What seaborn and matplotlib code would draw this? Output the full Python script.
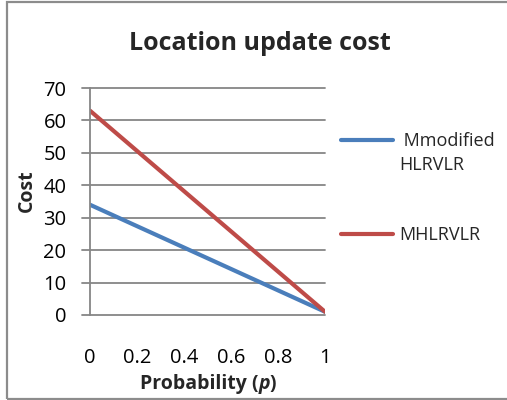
import matplotlib
matplotlib.use("Agg")
import matplotlib.pyplot as plt
from matplotlib.legend_handler import HandlerLine2D
from matplotlib.offsetbox import TextArea, HPacker, AnchoredOffsetbox
from matplotlib.patches import Rectangle
import seaborn as sns
import pandas as pd

# Data
probability = [0, 0.2, 0.4, 0.6, 0.8, 1]
mmodified_hlrvlr = [34, 27.4, 20.8, 14.2, 7.6, 1]
mhlrvlr = [63, 50.6, 38.2, 25.8, 13.4, 1]
series_labels = [" Mmodified\nHLRVLR", "MHLRVLR"]
x_tick_labels = ["0", "0.2", "0.4", "0.6", "0.8", "1"]
y_ticks = [0, 10, 20, 30, 40, 50, 60, 70]

df = pd.DataFrame({
    "p": probability * 2,
    "cost": mmodified_hlrvlr + mhlrvlr,
    "series": [series_labels[0]] * len(probability) + [series_labels[1]] * len(probability),
})

sns.set_theme(style="white")
FONT = "Open Sans"
plt.rcParams["font.family"] = [FONT, "DejaVu Sans"]

GRID = "#868686"
palette = {series_labels[0]: "#4A7EBB", series_labels[1]: "#BE4B48"}

fig = plt.figure(figsize=(5.07, 4.0), dpi=100)
ax = fig.add_axes([90 / 507, 1 - 315 / 400, (325 - 90) / 507, (315 - 88) / 400])

sns.lineplot(data=df, x="p", y="cost", hue="series", palette=palette,
             linewidth=3, ax=ax, legend=False)

ax.set_xlim(0, 1)
ax.set_ylim(0, 70)
ax.set_yticks(y_ticks)
ax.set_yticklabels([str(v) for v in y_ticks])
ax.set_xticks(probability)
ax.set_xticklabels(x_tick_labels)

# Horizontal gridlines reach past the axis like Excel's tick marks
for v in y_ticks:
    ax.axhline(v, xmin=-8 / 235, xmax=1, color=GRID, linewidth=1.3,
               clip_on=False, zorder=0.5)

for side in ["top", "right", "bottom"]:
    ax.spines[side].set_visible(False)
ax.spines["left"].set_color(GRID)
ax.spines["left"].set_linewidth(1.3)

ax.tick_params(axis="y", length=0, pad=17, labelsize=14.5, colors="black")
ax.tick_params(axis="x", length=0, pad=24, labelsize=14.5, colors="black")
ax.set_xlabel("")
ax.set_ylabel("Cost", fontsize=14, fontweight="bold")
ax.yaxis.set_label_coords(-0.225, 0.546)

fig.text(260 / 507, 1 - 43 / 400, "Location update cost", ha="center", va="center",
         fontsize=18, fontweight="bold")

# x-axis title with bold-italic p
parts = [
    TextArea("Probability (", textprops=dict(fontsize=14, fontweight="bold", family=FONT)),
    TextArea("p", textprops=dict(fontsize=14, fontweight="bold", style="italic", family=FONT)),
    TextArea(")", textprops=dict(fontsize=14, fontweight="bold", family=FONT)),
]
xlabel_box = HPacker(children=parts, align="baseline", pad=0, sep=0)
anchored = AnchoredOffsetbox(loc="center", child=xlabel_box, pad=0, frameon=False,
                             bbox_to_anchor=(208 / 507, 1 - 384 / 400),
                             bbox_transform=fig.transFigure, borderpad=0)
fig.add_artist(anchored)


class FirstLineHandler(HandlerLine2D):
    """Line handle aligned with the first line of a multi-line label."""

    def __init__(self, shift=0.0, **kw):
        super().__init__(**kw)
        self.shift = shift

    def create_artists(self, legend, orig_handle, xdescent, ydescent, width,
                       height, fontsize, trans):
        artists = super().create_artists(legend, orig_handle, xdescent, ydescent,
                                         width, height, fontsize, trans)
        for a in artists:
            y = a.get_ydata()
            a.set_ydata([v + self.shift for v in y])
        return artists


handles = [plt.Line2D([], [], color=palette[s], linewidth=3) for s in series_labels]
leg = ax.legend(handles, series_labels, loc="upper left",
                bbox_to_anchor=(341 / 507, 1 - 132 / 400), bbox_transform=fig.transFigure,
                frameon=False, fontsize=13, handlelength=2.9, handletextpad=0.3,
                labelspacing=2.9, borderpad=0, borderaxespad=0,
                handler_map={handles[0]: FirstLineHandler(shift=10.0)})
for t in leg.get_texts():
    t.set_linespacing(1.4)

# Chart-area border
fig.add_artist(Rectangle((6.5 / 507, 1.5 / 400), 1.0, 1 - 3.0 / 400,
                         transform=fig.transFigure, fill=False,
                         edgecolor="#8C8C8C", linewidth=1.6))

fig.savefig("out.png", dpi=100)
